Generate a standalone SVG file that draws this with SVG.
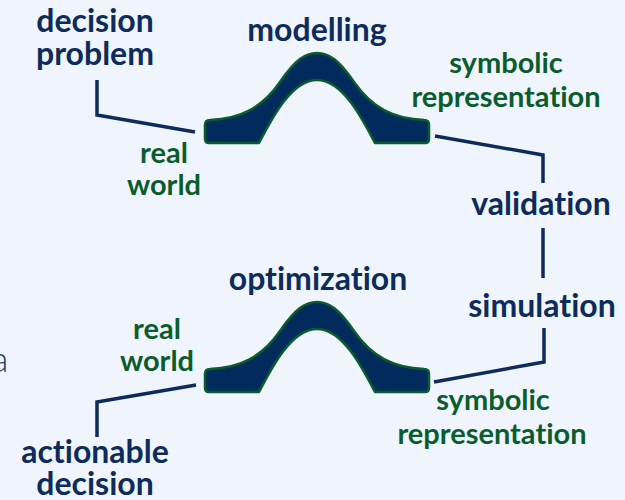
<svg xmlns="http://www.w3.org/2000/svg" width="625" height="500" viewBox="0 0 625 500">
<defs>
<style>
.bg{fill:#F0F5FD}
.t{font-family:Lato,"Open Sans","Liberation Sans",sans-serif;font-weight:bold;text-anchor:middle;font-variant-ligatures:none}
.n{fill:#0D2B5B;font-size:32px}
.g{fill:#0B5C2C;font-size:29px}
.bell{fill:#002B5C;stroke:#0B5C2C;stroke-width:2.5;stroke-linejoin:round}
.c{fill:none;stroke:#0D2B5B;stroke-width:3.5;stroke-linejoin:miter}
</style>
<path id="bellShape" d="M210,120 C240,119 262,108 280,82 C295,60 305,53 317,53 C329,53 339,60 354,82 C372,108 394,119 424,120 Q429,120 429,125 L429,139 Q429,143 425,143 L375,143 C363,120 343,80 317,80 C291,80 271,120 259,143 L209,143 Q205,143 205,139 L205,125 Q205,120 210,120 Z"/>
</defs>
<rect class="bg" x="0" y="0" width="625" height="500"/>
<text x="-9" y="372" style="font-family:Lato,'Liberation Sans',sans-serif;font-weight:300;font-size:36px;fill:#2A3F6A">a</text>
<g id="connectors">
<polyline class="c" points="97,80 97,115 195,132"/>
<polyline class="c" points="435,136 543,155 543,183"/>
<line class="c" x1="543" y1="228" x2="543" y2="278"/>
<polyline class="c" points="544,328 544,362 434,382"/>
<polyline class="c" points="97,437 97,402 196,385"/>
</g>
<g id="modelling-bell"><use href="#bellShape" class="bell"/></g>
<g id="optimization-bell"><use href="#bellShape" class="bell" transform="translate(0,249)"/></g>
<g id="decision-problem"><text class="t n" x="95" y="32">decision</text><text class="t n" x="95" y="65">problem</text></g>
<g id="modelling"><text class="t n" x="317" y="41">modelling</text></g>
<g id="symbolic-top"><text class="t g" x="506" y="73">symbolic</text><text class="t g" x="506" y="107">representation</text></g>
<g id="real-world-top"><text class="t g" x="164" y="163">real</text><text class="t g" x="164" y="195">world</text></g>
<g id="validation"><text class="t n" x="541" y="215">validation</text></g>
<g id="simulation"><text class="t n" x="542" y="317">simulation</text></g>
<g id="optimization"><text class="t n" x="318" y="290">optimization</text></g>
<g id="real-world-bottom"><text class="t g" x="157" y="339">real</text><text class="t g" x="157" y="371">world</text></g>
<g id="symbolic-bottom"><text class="t g" x="493" y="410">symbolic</text><text class="t g" x="492" y="444">representation</text></g>
<g id="actionable-decision"><text class="t n" x="95" y="463">actionable</text><text class="t n" x="95" y="495">decision</text></g>
</svg>
